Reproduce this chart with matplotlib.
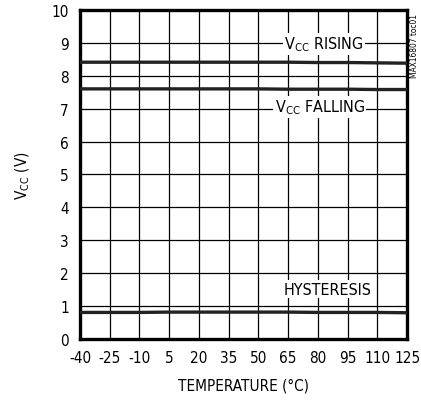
import matplotlib
matplotlib.use('Agg')
from matplotlib import pyplot as plt

temp = [-40, -25, -10, 5, 20, 35, 50, 65, 80, 95, 110, 125]
vcc_rising = [8.41, 8.41, 8.41, 8.41, 8.41, 8.41, 8.41, 8.41, 8.40, 8.40, 8.39, 8.38]
vcc_falling = [7.60, 7.60, 7.60, 7.60, 7.60, 7.60, 7.60, 7.59, 7.59, 7.59, 7.58, 7.58]
hysteresis = [0.81, 0.81, 0.81, 0.82, 0.82, 0.82, 0.82, 0.82, 0.81, 0.81, 0.81, 0.80]

plt.rcParams['font.family'] = ['DejaVu Sans']
plt.rcParams['font.stretch'] = 'condensed'
plt.rcParams['axes.unicode_minus'] = False

fig = plt.figure(figsize=(4.21, 4.02), dpi=100)
ax = fig.add_axes([0.190, 0.154, 0.777, 0.819])

for y in (vcc_rising, vcc_falling, hysteresis):
    ax.plot(temp, y, color='#222222', lw=2.4, zorder=3)

ax.set_xlim(-40, 125)
ax.set_ylim(0, 10)
ax.set_xticks(temp)
ax.set_yticks(range(0, 11))
ax.grid(True, color='black', lw=0.9)
ax.tick_params(length=0, labelsize=11, pad=8)
for s in ax.spines.values():
    s.set_linewidth(2.4)

box = dict(facecolor='white', edgecolor='none', pad=1)
ax.text(83, 8.97, r'V$_{\mathregular{CC}}$ RISING', ha='center', va='center', fontsize=11.5, bbox=box, zorder=4)
ax.text(81, 7.05, r'V$_{\mathregular{CC}}$ FALLING', ha='center', va='center', fontsize=11.5, bbox=box, zorder=4)
ax.text(85, 1.52, 'HYSTERESIS', ha='center', va='center', fontsize=11.5, bbox=box, zorder=4)

ax.set_xlabel('TEMPERATURE (°C)', fontsize=11, labelpad=9)
ax.set_ylabel(r'V$_{\mathregular{CC}}$ (V)', fontsize=11, labelpad=14)

fig.text(0.985, 0.965, 'MAX16807 toc01', rotation=90, ha='center', va='top', fontsize=6)

fig.savefig('out.png', dpi=100)
